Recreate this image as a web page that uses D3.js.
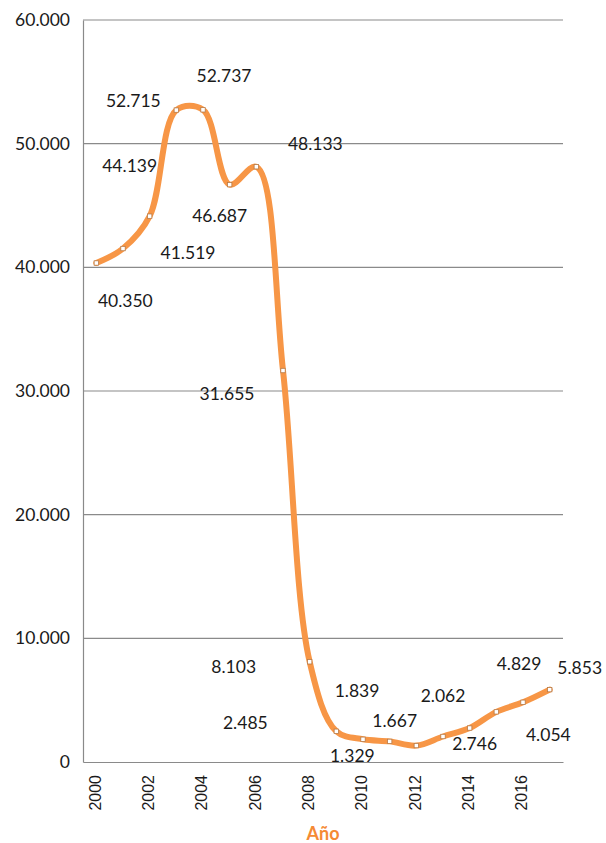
<!DOCTYPE html>
<html><head><meta charset="utf-8">
<script src="https://cdn.jsdelivr.net/npm/d3@7"></script>
<style>body{margin:0;background:#fff}</style>
</head><body>
<svg id="c" width="606" height="843"></svg>
<script>
const years = [2000,2001,2002,2003,2004,2005,2006,2007,2008,2009,2010,2011,2012,2013,2014,2015,2016,2017];
const values = [40350,41519,44139,52715,52737,46687,48133,31655,8103,2485,1839,1667,1329,2062,2746,4054,4829,5853];
const yTicks = [0,10000,20000,30000,40000,50000,60000];
const xTickYears = [2000,2002,2004,2006,2008,2010,2012,2014,2016];
const xTitle = "Año";
// label placement offsets (dx, dy) relative to each point, mimicking the original layout
const labelOffsets = [[29,37],[65,4],[-20,-51],[-43,-10],[21,-34],[-10,31],[59,-23],[-56,23],[-76,5],[-91,-9],[-6,-49],[5,-21],[-64,10],[0,-41],[5,15],[52,23],[-4,-39],[30,-22]];

const svg = d3.select("#c");
const m = {left:83, right:43, top:20, bottom:81};
const W = 606, H = 843;
const x = d3.scaleBand().domain(years).range([m.left, W-m.right]);
const y = d3.scaleLinear().domain([0,60000]).range([H-m.bottom, m.top]);
const loc = d3.formatLocale({decimal:",", thousands:".", grouping:[3], currency:["",""]});
const fmt = loc.format(",d");
const cx = d => x(d) + x.bandwidth()/2;
const FONT = "Lato, 'Open Sans', sans-serif";

// gridlines
svg.append("g").selectAll("line").data(yTicks.filter(t=>t>0)).join("line")
  .attr("x1", m.left).attr("x2", W-m.right)
  .attr("y1", d=>y(d)).attr("y2", d=>y(d))
  .attr("stroke","#8a8a8a").attr("stroke-width",1.2);

// y axis
const ya = svg.append("g").attr("transform",`translate(${m.left},0)`)
  .call(d3.axisLeft(y).tickValues(yTicks).tickFormat(fmt).tickSize(0).tickPadding(13));
ya.select(".domain").attr("stroke","#8a8a8a").attr("stroke-width",1.2);
ya.selectAll("text").attr("font-family",FONT).attr("font-size","17.5px").attr("fill","#1a1a1a");

// x axis
const xa = svg.append("g").attr("transform",`translate(0,${H-m.bottom})`)
  .call(d3.axisBottom(x).tickValues(xTickYears).tickSize(0).tickPadding(0));
xa.select(".domain").attr("stroke","#8a8a8a").attr("stroke-width",1.2);
xa.selectAll("text")
  .attr("font-family","'Liberation Sans', Arial, sans-serif")
  .attr("font-size","16px").attr("fill","#1a1a1a")
  .attr("text-anchor","end").attr("dy",null)
  .attr("transform","translate(0,13) rotate(-90)")
  .attr("dominant-baseline","middle").attr("y",0).attr("x",0);

// line
const line = d3.line().x((d,i)=>cx(years[i])).y(d=>y(d)).curve(d3.curveCatmullRom.alpha(0.5));
svg.append("path").datum(values).attr("d", line)
  .attr("fill","none").attr("stroke","#F79646").attr("stroke-width",6)
  .attr("stroke-linejoin","round").attr("stroke-linecap","round");

// markers
svg.append("g").selectAll("rect").data(values).join("rect")
  .attr("x",(d,i)=>cx(years[i])-2.2).attr("y",d=>y(d)-2.2)
  .attr("width",4.4).attr("height",4.4)
  .attr("fill","#fff").attr("stroke","#b87a45").attr("stroke-width",0.8);

// data labels
svg.append("g").selectAll("text").data(values).join("text")
  .attr("x",(d,i)=>cx(years[i])+labelOffsets[i][0])
  .attr("y",(d,i)=>y(d)+labelOffsets[i][1])
  .attr("text-anchor","middle").attr("dominant-baseline","central")
  .attr("font-family",FONT).attr("font-size","17.5px")
  .attr("fill","#1a1a1a").text(d=>fmt(d));

// x title
svg.append("text").attr("x", (m.left + W - m.right)/2).attr("y", 840)
  .attr("text-anchor","middle").attr("font-family",FONT)
  .attr("font-weight","bold").attr("font-size","18px").attr("fill","#F58A34").text(xTitle);
</script>
</body></html>
